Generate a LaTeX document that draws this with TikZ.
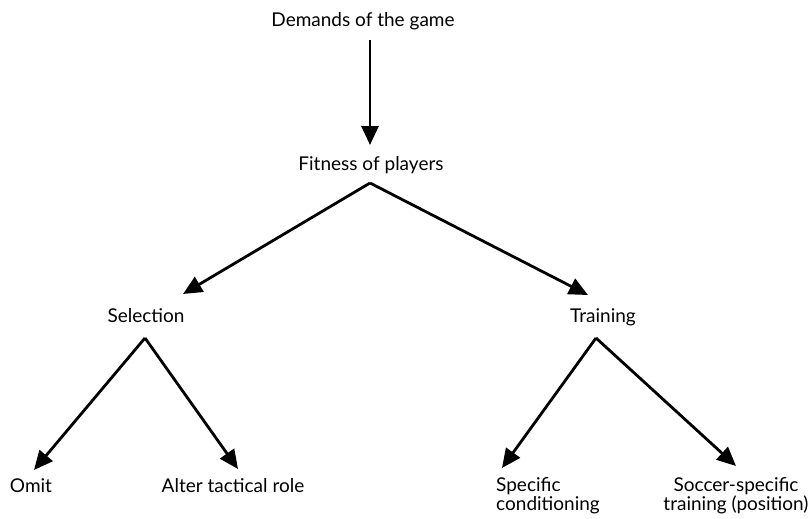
\documentclass[tikz,border=0pt]{standalone}
\usepackage{fontspec}
\setmainfont{Lato}
\usetikzlibrary{arrows.meta}
\begin{document}
\begin{tikzpicture}[x=1pt,y=-1pt,
  lbl/.style={anchor=base,inner sep=0pt,font=\fontsize{19}{19}\selectfont},
  conn/.style={line width=2.8pt,-{Triangle[length=19pt,width=17pt]}}]
\useasboundingbox (0,0) rectangle (811,519);
\node[lbl] (demands) at (363,27) {Demands of the game};
\node[lbl] (fitness) at (371,170) {Fitness of players};
\node[lbl] (selection) at (146,322) {Selection};
\node[lbl] (training) at (603,322) {Training};
\node[lbl] (omit) at (31,492) {Omit};
\node[lbl] (alter) at (233,492) {Alter tactical role};
\node[lbl,anchor=base west,align=left] (specific) at (496,510) {Specific\\conditioning};
\node[lbl,align=center] (soccer) at (736,510) {Soccer-specific\\training (position)};
\coordinate (d0) at (370,40);
\coordinate (d1) at (370,145);
\coordinate (f0) at (370,183);
\coordinate (f1) at (183,294);
\coordinate (f2) at (588,295);
\coordinate (s0) at (145,338);
\coordinate (s1) at (34,470);
\coordinate (s2) at (238,469);
\coordinate (t0) at (596,338);
\coordinate (t1) at (502,468);
\coordinate (t2) at (736,466);
\draw[conn] (d0) -- (d1);
\draw[conn] (f0) -- (f1);
\draw[conn] (f0) -- (f2);
\draw[conn] (s0) -- (s1);
\draw[conn] (s0) -- (s2);
\draw[conn] (t0) -- (t1);
\draw[conn] (t0) -- (t2);
\end{tikzpicture}
\end{document}
